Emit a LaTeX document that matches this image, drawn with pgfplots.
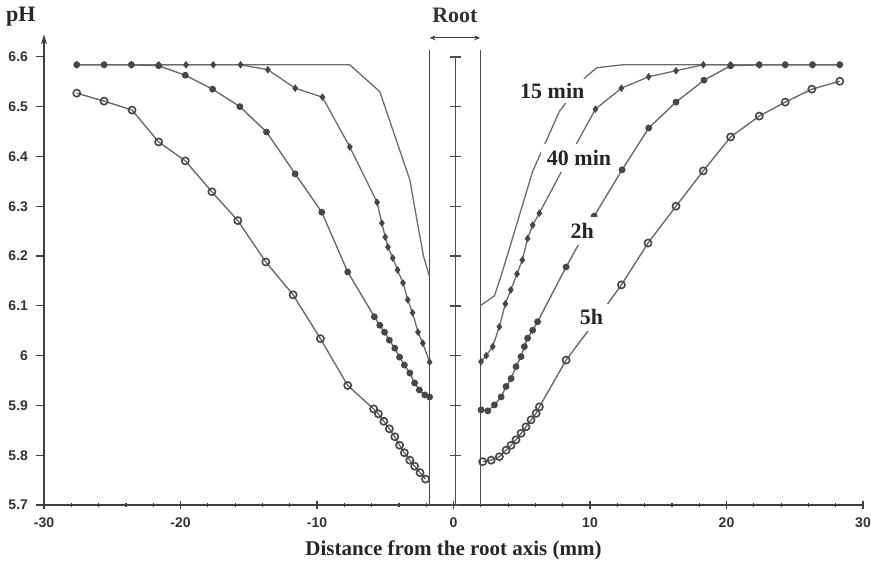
\documentclass[border=0pt]{standalone}
\usepackage{fontspec}
\setmainfont{Liberation Serif}
\setsansfont{Liberation Sans}
\usepackage{pgfplots}
\pgfplotsset{compat=1.18}
\usetikzlibrary{arrows.meta}
\definecolor{ln}{gray}{0.42}
\definecolor{mk}{gray}{0.28}
\begin{document}
\begin{tikzpicture}
\begin{axis}[
  scale only axis, width=409.5pt, height=235.3pt,
  xmin=-30, xmax=30, ymin=5.7, ymax=6.645,
  axis x line=bottom, axis y line=left,
  x axis line style={-}, y axis line style={-{Stealth[length=5pt,width=3pt]}},
  axis line style={black!75, line width=0.7pt},
  xtick={-30,-20,-10,0,10,20,30}, minor xtick={-28,-26,...,28},
  ytick={5.7,5.8,5.9,6.0,6.1,6.2,6.3,6.4,6.5,6.6},
  yticklabels={5.7,5.8,5.9,6,6.1,6.2,6.3,6.4,6.5,6.6},
  xticklabels={-30,-20,-10,0,10,20,30},
  /pgf/number format/assume math mode=true,
  ticklabel style={font=\sffamily\bfseries\fontsize{7}{8}\selectfont, text=black!80},
  x tick style={black!75, line width=0.6pt},
  y tick style={black!75, line width=0.6pt},
  xtick align=center, ytick align=outside,
  major tick length=4pt, minor tick length=2pt,
  xticklabel style={yshift=-1pt},
  yticklabel style={xshift=-0.5pt},
  xlabel={Distance from the root axis (mm)},
  xlabel style={font=\bfseries\fontsize{10.5}{12}\selectfont, at={(axis description cs:0.5,0)}, anchor=center, yshift=-22.5pt, text=black!85},
  clip=false,
]
\coordinate (O) at (rel axis cs:0,0);
\coordinate (L15) at (axis cs:7.24,6.531);
\coordinate (L40) at (axis cs:9.2,6.397);
\coordinate (L2) at (axis cs:9.43,6.25);
\coordinate (L5) at (axis cs:10.1,6.077);
% root
\draw[black!70, line width=0.6pt] (axis cs:-1.75,5.7) -- (axis cs:-1.75,6.614);
\draw[black!70, line width=0.6pt] (axis cs:1.95,5.7) -- (axis cs:1.95,6.614);
\draw[black!75, line width=0.6pt, {Stealth[length=3pt,width=2.5pt]}-{Stealth[length=3pt,width=2.5pt]}] (axis cs:-1.75,6.638) -- (axis cs:1.95,6.638);
\node[font=\bfseries\fontsize{11}{12}\selectfont, text=black!80] at (axis cs:0.1,6.684) {Root};
\addplot[black!70, line width=0.6pt, mark=-, mark size=2.6pt, mark options={line width=0.7pt}] coordinates {
(0.15,5.7)(0.15,5.8)(0.15,5.9)(0.15,6.0)(0.15,6.1)(0.15,6.2)(0.15,6.3)(0.15,6.4)(0.15,6.5)(0.15,6.6)};
% 15 min
\addplot[ln, line width=0.65pt] coordinates {
(-27.6,6.584)(-7.6,6.584)(-5.4,6.53)(-3.2,6.353)(-2.6,6.26)(-2.2,6.2)(-1.75,6.158)};
\addplot[ln, line width=0.65pt] coordinates {
(1.95,6.10)(3.0,6.12)(3.6,6.17)(5.8,6.37)(7.75,6.49)(9.7,6.56)(10.5,6.578)(12.4,6.584)(28.5,6.584)};
% 2h
\addplot[ln, line width=0.7pt, mark=*, mark size=1.35pt, mark options={fill=mk, draw=mk}] coordinates {
(-27.6,6.584)(-25.6,6.584)(-23.6,6.584)(-21.6,6.582)(-19.65,6.563)(-17.65,6.535)(-15.65,6.5)(-13.7,6.449)(-11.6,6.365)(-9.65,6.288)(-7.75,6.168)(-5.8,6.078)(-5.4,6.061)(-5.05,6.047)(-4.7,6.031)(-4.3,6.015)(-3.95,5.997)(-3.6,5.981)(-3.2,5.965)(-2.85,5.945)(-2.5,5.931)(-2.1,5.921)(-1.75,5.917)};
\addplot[ln, line width=0.7pt, mark=*, mark size=1.35pt, mark options={fill=mk, draw=mk}] coordinates {
(2.02,5.891)(2.51,5.889)(3.0,5.901)(3.49,5.917)(3.85,5.938)(4.22,5.954)(4.58,5.978)(4.95,5.998)(5.19,6.018)(5.43,6.035)(5.8,6.051)(6.16,6.068)(8.25,6.178)(10.3,6.28)(12.35,6.373)(14.3,6.457)(16.3,6.509)(18.35,6.553)(20.3,6.582)(22.4,6.584)(24.3,6.584)(26.3,6.584)(28.3,6.584)};
% 40 min
\addplot[ln, line width=0.65pt, mark=diamond*, mark size=1.4pt, mark options={fill=mk, draw=mk}] coordinates {
(-27.6,6.584)(-25.6,6.584)(-23.6,6.584)(-21.6,6.584)(-19.6,6.584)(-17.6,6.584)(-15.6,6.584)(-13.6,6.574)(-11.6,6.537)(-9.6,6.519)(-7.6,6.419)(-5.6,6.308)(-5.25,6.266)(-5.0,6.238)(-4.8,6.218)(-4.45,6.196)(-4.1,6.172)(-3.7,6.146)(-3.35,6.112)(-3.0,6.086)(-2.6,6.047)(-2.25,6.025)(-1.75,5.987)};
\addplot[ln, line width=0.65pt, mark=diamond*, mark size=1.4pt, mark options={fill=mk, draw=mk}] coordinates {
(2.02,5.988)(2.4,6.0)(2.87,6.018)(3.36,6.058)(3.8,6.104)(4.2,6.132)(4.65,6.164)(5.04,6.192)(5.43,6.235)(5.8,6.262)(6.29,6.286)(8.3,6.39)(10.4,6.495)(12.3,6.537)(14.3,6.56)(16.3,6.572)(18.3,6.584)(20.3,6.584)(22.4,6.584)(24.3,6.584)(26.3,6.584)(28.3,6.584)};
% 5h
\addplot[ln, line width=0.7pt, mark=o, mark size=1.8pt, mark options={fill=white, draw=mk, line width=0.8pt}] coordinates {
(-27.6,6.527)(-25.6,6.511)(-23.55,6.493)(-21.6,6.429)(-19.65,6.391)(-17.7,6.329)(-15.8,6.271)(-13.75,6.188)(-11.75,6.122)(-9.75,6.034)(-7.75,5.94)(-5.85,5.893)(-5.5,5.883)(-5.1,5.868)(-4.7,5.853)(-4.3,5.837)(-3.95,5.82)(-3.6,5.805)(-3.2,5.79)(-2.85,5.778)(-2.45,5.765)(-2.05,5.752)};
\addplot[ln, line width=0.7pt, mark=o, mark size=1.8pt, mark options={fill=white, draw=mk, line width=0.8pt}] coordinates {
(2.14,5.787)(2.76,5.79)(3.36,5.797)(3.85,5.81)(4.22,5.82)(4.58,5.831)(4.95,5.844)(5.31,5.857)(5.68,5.871)(6.05,5.884)(6.29,5.897)(8.25,5.991)(10.3,6.066)(12.3,6.142)(14.25,6.226)(16.3,6.30)(18.3,6.371)(20.3,6.439)(22.4,6.481)(24.3,6.509)(26.25,6.535)(28.3,6.551)};
\node[font=\bfseries\fontsize{11}{12}\selectfont, text=black!85] at (axis cs:-31.7,6.68) {pH};
\end{axis}
\tikzset{lab/.style={fill=white, inner sep=3pt, font=\bfseries\fontsize{11}{12}\selectfont, text=black!85}}
\node[lab, inner sep=2pt] at (L15) {15 min};
\node[lab] at (L40) {40 min};
\node[lab] at (L2) {2h};
\node[lab] at (L5) {5h};
\pgfresetboundingbox
\path (O) ++(-22pt,-31pt) rectangle ++(435.5pt,283.5pt);
\end{tikzpicture}
\end{document}
